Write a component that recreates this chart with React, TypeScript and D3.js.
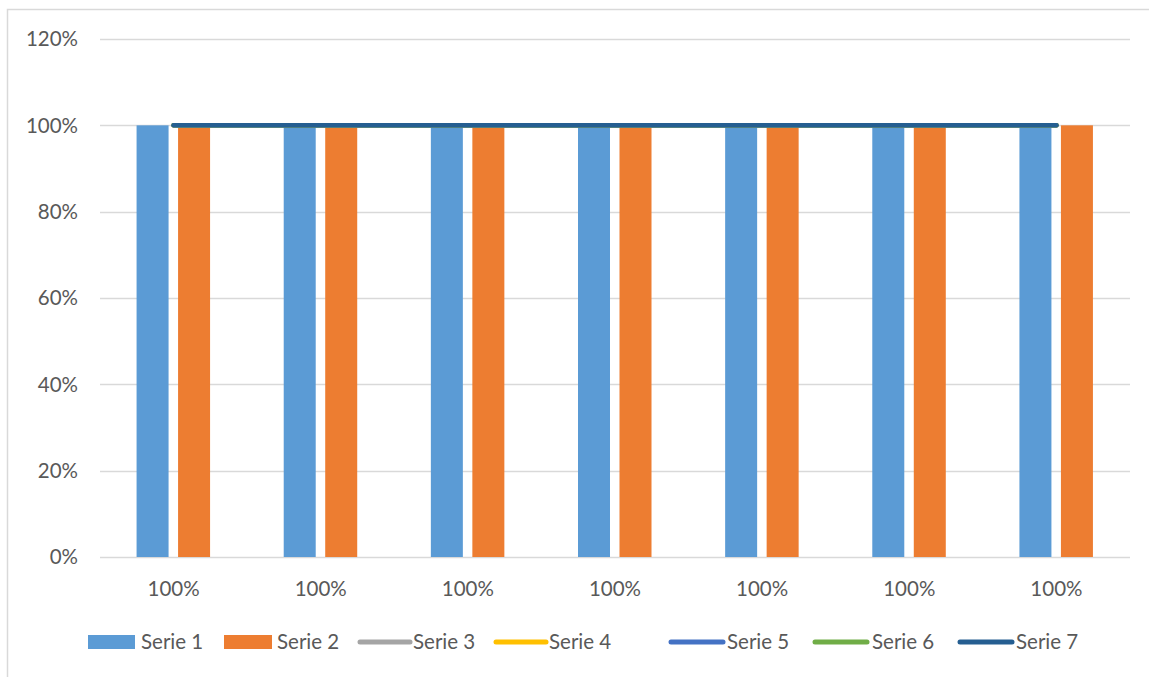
import { useMemo } from 'react'
import * as d3 from 'd3'

const categories = ['100%', '100%', '100%', '100%', '100%', '100%', '100%']
const serie1 = [1, 1, 1, 1, 1, 1, 1]
const serie2 = [1, 1, 1, 1, 1, 1, 1]
const serie3 = [1, 1, 1, 1, 1, 1, 1]
const serie4 = [1, 1, 1, 1, 1, 1, 1]
const serie5 = [1, 1, 1, 1, 1, 1, 1]
const serie6 = [1, 1, 1, 1, 1, 1, 1]
const serie7 = [1, 1, 1, 1, 1, 1, 1]
const yTicks = [0, 0.2, 0.4, 0.6, 0.8, 1, 1.2]

const barSeries = [
  { name: 'Serie 1', values: serie1, color: '#5b9bd5' },
  { name: 'Serie 2', values: serie2, color: '#ed7d31' },
]
const lineSeries = [
  { name: 'Serie 3', values: serie3, color: '#a5a5a5' },
  { name: 'Serie 4', values: serie4, color: '#ffc000' },
  { name: 'Serie 5', values: serie5, color: '#4472c4' },
  { name: 'Serie 6', values: serie6, color: '#70ad47' },
  { name: 'Serie 7', values: serie7, color: '#255e91' },
]

const W = 1149
const H = 677
const margin = { left: 100, right: 19, top: 39, bottom: 120 }
const font = 'Lato, "Open Sans", sans-serif'
const fs = 20.5

export default function App() {
  const x = useMemo(
    () => d3.scaleBand<number>().domain(d3.range(categories.length)).range([margin.left, W - margin.right]),
    []
  )
  const y = useMemo(() => d3.scaleLinear().domain([0, 1.2]).range([H - margin.bottom, margin.top]), [])
  const barW = 32
  const barGap = 10
  const fmt = d3.format('.0%')

  const line = d3
    .line<number>()
    .x((_, i) => (x(i) as number) + x.bandwidth() / 2)
    .y(d => y(d))

  // legend layout
  const legendItems = [
    { name: 'Serie 1', kind: 'bar', color: barSeries[0].color, x: 88, w: 47, tx: 141 },
    { name: 'Serie 2', kind: 'bar', color: barSeries[1].color, x: 224, w: 48, tx: 277 },
    { name: 'Serie 3', kind: 'line', color: lineSeries[0].color, x: 360, w: 50, tx: 413 },
    { name: 'Serie 4', kind: 'line', color: lineSeries[1].color, x: 496, w: 50, tx: 549 },
    { name: 'Serie 5', kind: 'line', color: lineSeries[2].color, x: 671, w: 52, tx: 727 },
    { name: 'Serie 6', kind: 'line', color: lineSeries[3].color, x: 815, w: 52, tx: 872 },
    { name: 'Serie 7', kind: 'line', color: lineSeries[4].color, x: 960, w: 52, tx: 1016 },
  ]

  return (
    <svg
      width={W}
      height={H}
      style={{ position: 'absolute', left: 0, top: 0, background: '#fff', fontFamily: font }}
    >
      <rect x={7.5} y={9.5} width={W + 10} height={H + 10} fill="#fff" stroke="#d9d9d9" strokeWidth={1.5} />

      {/* gridlines + y labels */}
      {yTicks.map(t => (
        <g key={t}>
          <line x1={margin.left} x2={W - margin.right} y1={Math.round(y(t)) + 0.5} y2={Math.round(y(t)) + 0.5} stroke="#d9d9d9" strokeWidth={1.3} />
          <text x={78} y={y(t)} dy="0.35em" textAnchor="end" fontSize={fs} fill="#595959">
            {fmt(t)}
          </text>
        </g>
      ))}

      {/* bars */}
      {categories.map((c, i) => {
        const cx = (x(i) as number) + x.bandwidth() / 2
        return (
          <g key={i}>
            {barSeries.map((s, j) => {
              const bx = j === 0 ? cx - barGap / 2 - barW : cx + barGap / 2 - 0.5
              return (
                <rect key={s.name} x={bx} y={y(s.values[i])} width={barW} height={y(0) - y(s.values[i])} fill={s.color} />
              )
            })}
            <text x={cx} y={589} dy="0.35em" textAnchor="middle" fontSize={fs} fill="#595959">
              {c}
            </text>
          </g>
        )
      })}

      {/* lines */}
      {lineSeries.map(s => (
        <path key={s.name} d={line(s.values) || ''} fill="none" stroke={s.color} strokeWidth={4.5} strokeLinecap="round" />
      ))}

      {/* legend */}
      {legendItems.map(it => (
        <g key={it.name}>
          {it.kind === 'bar' ? (
            <rect x={it.x} y={635} width={it.w} height={14} fill={it.color} />
          ) : (
            <line x1={it.x} x2={it.x + it.w} y1={642} y2={642} stroke={it.color} strokeWidth={5} strokeLinecap="round" />
          )}
          <text x={it.tx} y={642} dy="0.35em" fontSize={fs} fill="#595959">
            {it.name}
          </text>
        </g>
      ))}
    </svg>
  )
}
